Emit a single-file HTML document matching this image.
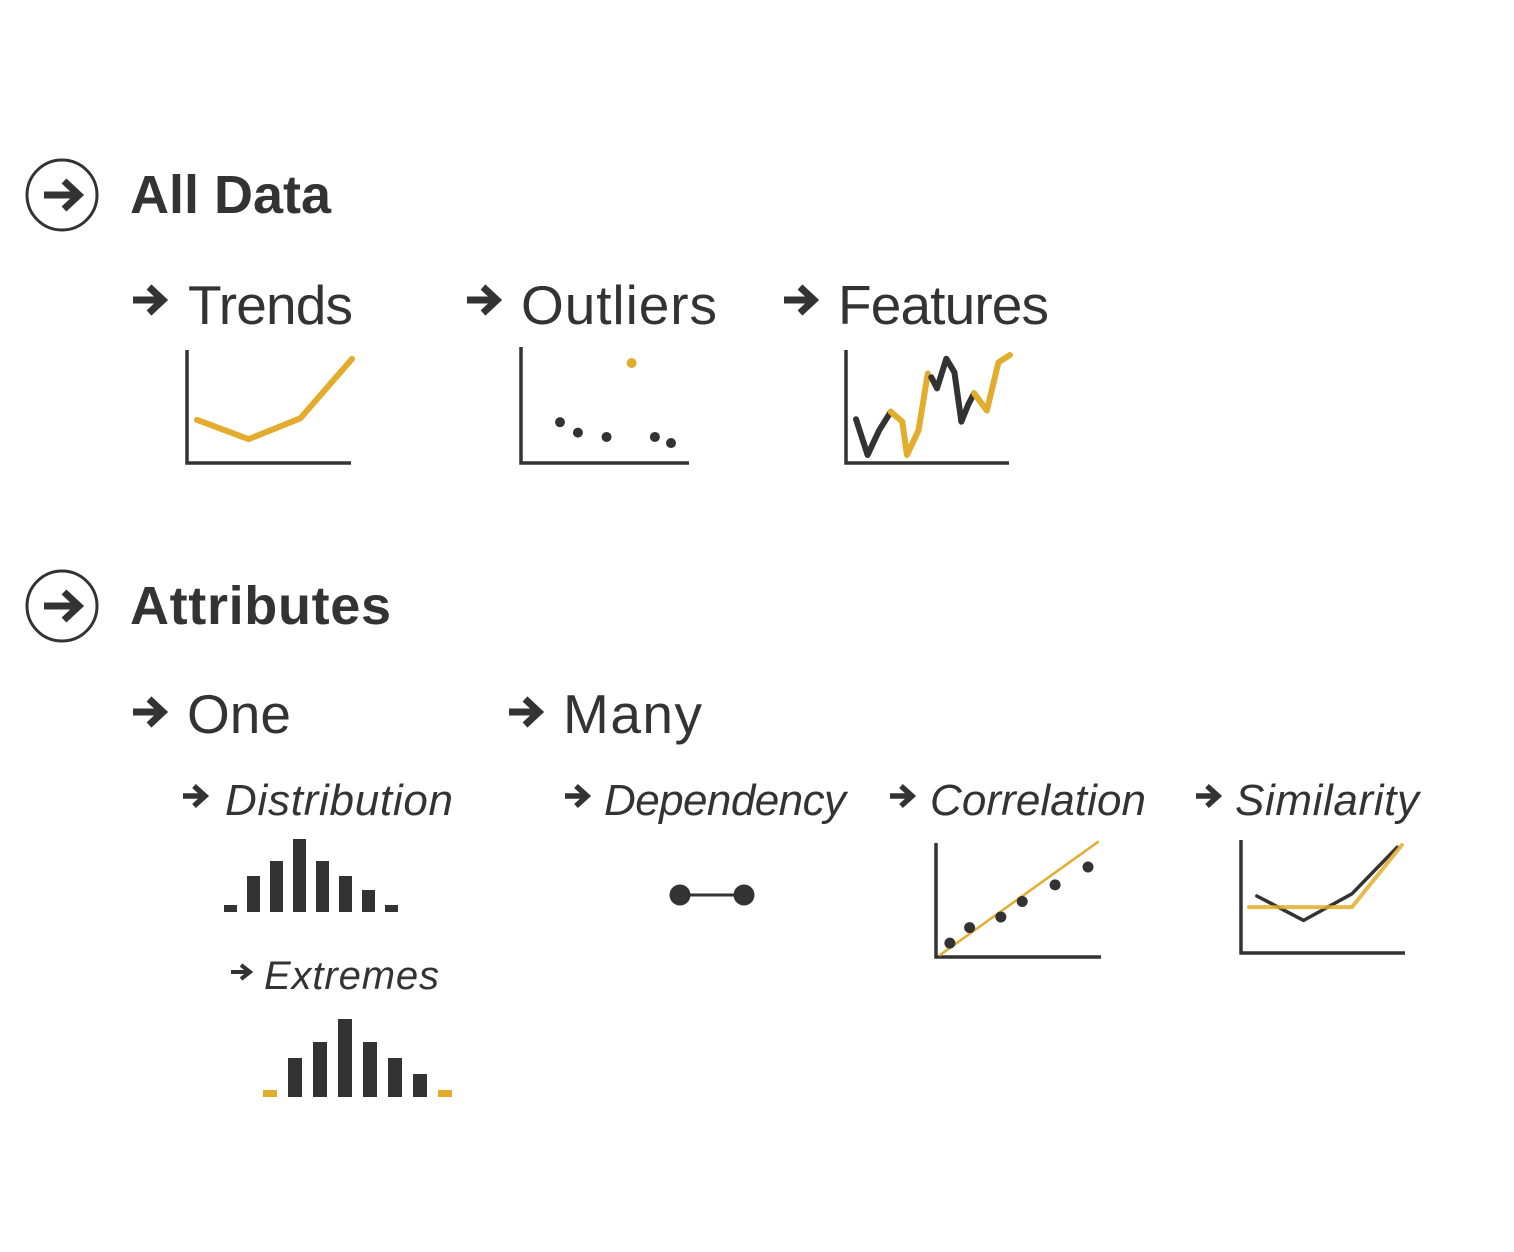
<!DOCTYPE html>
<html><head><meta charset="utf-8"><style>
html,body{margin:0;padding:0;background:#fff;}
svg{display:block;}
text{font-family:"Liberation Sans",sans-serif;fill:#333;}
</style></head><body>
<svg id="s" width="1514" height="1252" viewBox="0 0 1514 1252">
<defs>
<g id="arr"><path d="M0 0 H30 M16 -13 L30 0 L16 13" fill="none" stroke="#333" stroke-width="7"/></g>
<g id="arrs"><path d="M0 0 H22 M11 -10 L22 0 L11 10" fill="none" stroke="#333" stroke-width="5.5"/></g>
</defs>
<g>
<circle cx="62" cy="195" r="35" fill="none" stroke="#333" stroke-width="3"/>
<path d="M44 195 H78 M64 181 L79 195 L64 209" fill="none" stroke="#333" stroke-width="7"/>
</g>
<text x="130" y="213" font-size="54" font-weight="bold" textLength="201">All Data</text>
<g>
<circle cx="62" cy="606" r="35" fill="none" stroke="#333" stroke-width="3"/>
<path d="M44 606 H78 M64 592 L79 606 L64 620" fill="none" stroke="#333" stroke-width="7"/>
</g>
<text x="130" y="624" font-size="54" font-weight="bold" textLength="261">Attributes</text>

<use href="#arr" x="133" y="300"/>
<text x="188" y="324" font-size="55" textLength="165">Trends</text>
<use href="#arr" x="467" y="300"/>
<text x="521" y="324" font-size="55" textLength="196">Outliers</text>
<use href="#arr" x="784" y="300"/>
<text x="838" y="324" font-size="55" textLength="211">Features</text>

<use href="#arr" x="133" y="712"/>
<text x="187" y="733" font-size="55" textLength="104">One</text>
<use href="#arr" x="509" y="712"/>
<text x="563" y="733" font-size="55" textLength="139">Many</text>

<use href="#arrs" x="183" y="796"/>
<text x="225" y="815" font-size="44" font-style="italic" textLength="228">Distribution</text>
<use href="#arrs" x="565" y="796"/>
<text x="604" y="815" font-size="44" font-style="italic" textLength="242">Dependency</text>
<use href="#arrs" x="890" y="796"/>
<text x="930" y="815" font-size="44" font-style="italic" textLength="216">Correlation</text>
<use href="#arrs" x="1196" y="796"/>
<text x="1235" y="815" font-size="44" font-style="italic" textLength="184">Similarity</text>
<path d="M231 972 H249 M241 965 L250 972 L241 979" fill="none" stroke="#333" stroke-width="4"/>
<text x="264" y="989" font-size="40" font-style="italic" textLength="175">Extremes</text>

<g id="marks"></g>
</svg>
<script>
// Data arrays
const trendX = [0, 1, 2, 3];
const trendY = [2.3, 1, 2.4, 6.4];
const outlierX = [0, 1, 2.6, 5.3, 6.2];
const outlierY = [1.6, 1, 0.75, 0.75, 0.4];
const outlierHiX = [4.0];
const outlierHiY = [5.0];
const featBlack1X = [0, 1, 2, 3];
const featBlack1Y = [2.9, 0, 2.0, 3.5];
const featOrange1X = [3, 4, 4.4, 5.4, 6.2];
const featOrange1Y = [3.5, 2.7, 0, 2.0, 6.6];
const featBlack2X = [6.5, 7.0, 7.8, 8.5, 9.1, 9.7, 10.2];
const featBlack2Y = [6.3, 5.4, 7.8, 6.7, 2.7, 4.1, 5.0];
const featOrange2X = [10.2, 11.3, 12.3, 13.3];
const featOrange2Y = [5.0, 3.6, 7.5, 8.1];
const distValues = [7, 36, 51, 73, 51, 36, 22, 7];
const extValues = [7, 39, 55, 78, 55, 39, 23, 7];
const extHighlight = [1, 0, 0, 0, 0, 0, 0, 1];
const corrX = [0.6, 1.8, 3.7, 5, 7, 9];
const corrY = [1, 2.3, 3.2, 4.5, 5.9, 7.4];
const corrFitX = [0, 9.6];
const corrFitY = [0, 9.4];
const simBlackX = [0.5, 3.5, 6.6, 9.5];
const simBlackY = [4.6, 2.4, 4.8, 9.0];
const simOrangeX = [0, 6.6, 9.8];
const simOrangeY = [3.6, 3.6, 9.2];

const NS = 'http://www.w3.org/2000/svg';
const root = document.getElementById('marks');
const OR = '#e3ac2d', DK = '#333';
function mk(tag, attrs, parent) {
  const e = document.createElementNS(NS, tag);
  for (const k in attrs) e.setAttribute(k, attrs[k]);
  (parent || root).appendChild(e);
  return e;
}
function scale(d0, d1, r0, r1) { return v => r0 + (v - d0) / (d1 - d0) * (r1 - r0); }
function axes(x0, yTop, yBot, xEnd, name) {
  const a = mk('path', {d: `M${x0} ${yTop} V${yBot} H${xEnd}`, fill: 'none', stroke: DK, 'stroke-width': 3.5});
  
  
}
function line(xs, ys, sx, sy, color, w, name, op) {
  const d = xs.map((v, i) => (i ? 'L' : 'M') + sx(v) + ' ' + sy(ys[i])).join(' ');
  const p = mk('path', {d: d, fill: 'none', stroke: color, 'stroke-width': w, 'stroke-linejoin': 'round', 'stroke-linecap': 'round', opacity: op || 1});
  
  
}
function dots(xs, ys, sx, sy, color, r, name) {
  xs.forEach((v, i) => {
    const c = mk('circle', {cx: sx(v), cy: sy(ys[i]), r: r, fill: color});
    
    
  });
}
axes(187, 350, 463, 351, 'trends-axes');
{ const sx = scale(0, 3, 197, 352), sy = scale(0, 7, 454, 350);
  line(trendX, trendY, sx, sy, OR, 6, 'trend-line'); }
axes(521, 347, 463, 689, 'outliers-axes');
{ const sx = scale(0, 6.2, 560, 671), sy = scale(0, 5, 450, 363);
  dots(outlierX, outlierY, sx, sy, DK, 5, 'outlier-point');
  dots(outlierHiX, outlierHiY, sx, sy, OR, 5, 'outlier-highlight'); }
axes(846, 350, 463, 1009, 'features-axes');
{ const sx = scale(0, 13.3, 856, 1010), sy = scale(0, 8.1, 455, 355);
  line(featBlack1X, featBlack1Y, sx, sy, DK, 6, 'feature-line-dark');
  line(featOrange1X, featOrange1Y, sx, sy, OR, 6, 'feature-line-orange');
  line(featBlack2X, featBlack2Y, sx, sy, DK, 6, 'feature-line-dark');
  line(featOrange2X, featOrange2Y, sx, sy, OR, 6, 'feature-line-orange'); }
{ const bx = i => 224 + i * 23, sh = scale(0, 73, 0, 73);
  distValues.forEach((v, i) => {
    const r = mk('rect', {x: bx(i), y: 912 - sh(v), width: 13, height: sh(v), fill: DK});
    
    
  }); }
{ const bx = i => 263 + i * 25, sh = scale(0, 78, 0, 78);
  extValues.forEach((v, i) => {
    const r = mk('rect', {x: bx(i), y: 1097 - sh(v), width: 14, height: sh(v), fill: extHighlight[i] ? OR : DK});
    
    
  }); }
{ const l = mk('path', {d: 'M680 895 H744', stroke: DK, 'stroke-width': 3});
  
  
  dots([0, 1], [0, 0], scale(0, 1, 680, 744), () => 895, DK, 10.5, 'dependency-node'); }
axes(936, 843, 957, 1101, 'correlation-axes');
{ const sx = scale(0, 9, 940, 1088), sy = scale(0, 7.4, 955, 867);
  line(corrFitX, corrFitY.map(v => v * 7.4 / 9.4 * (113 / 88) ), sx, sy, OR, 2.5, 'correlation-fit-line');
  dots(corrX, corrY, sx, sy, DK, 5.5, 'correlation-point'); }
axes(1241, 840, 953, 1405, 'similarity-axes');
{ const sx = scale(0, 10, 1249, 1405), sy = scale(0, 9.2, 947, 845);
  line(simBlackX, simBlackY, sx, sy, DK, 3.5, 'similarity-line-dark');
  line(simOrangeX, simOrangeY, sx, sy, OR, 4, 'similarity-line-orange', 0.85); }
</script>
</body></html>
